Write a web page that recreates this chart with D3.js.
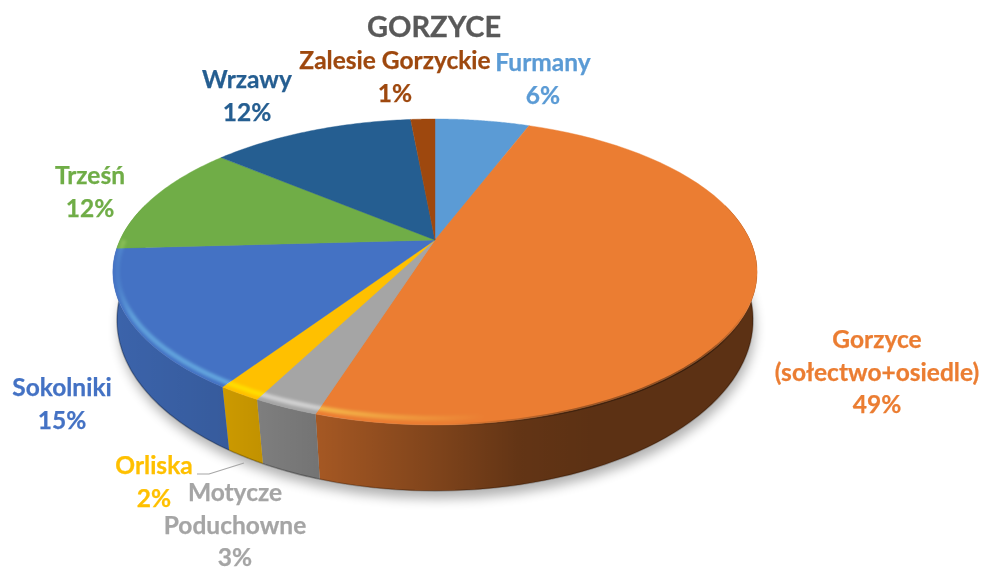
<!DOCTYPE html>
<html><head><meta charset="utf-8">
<script src="https://cdn.jsdelivr.net/npm/d3@7"></script>
<style>html,body{margin:0;background:#fff}svg{display:block}text{font-family:Lato,"Open Sans",sans-serif;font-weight:700}</style>
</head><body><svg id="c" width="985" height="570"></svg>
<script>
const title = "GORZYCE";
const categories = ["Furmany","Gorzyce (sołectwo+osiedle)","Motycze Poduchowne","Orliska","Sokolniki","Trześń","Wrzawy","Zalesie Gorzyckie"];
const values = [5.8,49.1,2.7,1.8,14.7,11.9,12.49,1.49];
const labelShown = [6,49,3,2,15,12,12,1];
const colors = ["#5B9BD5","#EB7D32","#A5A5A5","#FFC000","#4472C4","#70AD47","#255E91","#9E480E"];
const labelLines = [["Furmany"],["Gorzyce","(sołectwo+osiedle)"],["Motycze","Poduchowne"],["Orliska"],["Sokolniki"],["Trześń"],["Wrzawy"],["Zalesie Gorzyckie"]];
const labelPos = [[543,64],[877,341],[235,494],[154,467],[62,389],[90,177],[247,81],[395,62]];

const svg = d3.select("#c");
const defs = svg.append("defs");
const project = (plane) => (theta) => {
  const u = Math.sin(theta), v = -Math.cos(theta), w = 1 - plane.k * v;
  return [plane.x + plane.rx * u / w, plane.y + plane.ry * v / w];
};
const topP = project({x:435,y:240,rx:315,ry:146.3,k:0.209});
const rimP = project({x:435,y:240,rx:311,ry:141,k:0.209});
const botP = project({x:435,y:288.4,rx:312.6,ry:165,k:0.185});
const arcPts = (f,a,b) => d3.range(0,61).map(i=>f(a+(b-a)*i/60));
const line = d3.line();
const pie = d3.pie().sort(null).value(d=>d)(values);

const blur = (id,s)=>defs.append("filter").attr("id",id).attr("x","-20%").attr("y","-20%").attr("width","140%").attr("height","140%").append("feGaussianBlur").attr("stdDeviation",s);
blur("b6",6); blur("b2",1.8); blur("b1",0.7);

// shadow
const all = arcPts(botP,0,2*Math.PI);
svg.append("path").attr("d",line(all.map(p=>[p[0]+2,p[1]+8]))+"Z").attr("fill","#000").attr("opacity",0.3).attr("filter","url(#b6)");

// side shading
const grad = (id,stops)=>{
  const g = defs.append("linearGradient").attr("id",id).attr("gradientUnits","userSpaceOnUse").attr("x1",113).attr("x2",757).attr("y1",0).attr("y2",0);
  stops.forEach(s=>g.append("stop").attr("offset",s[0]).attr("stop-color",s[1]).attr("stop-opacity",s[2]));
};
grad("side",[[0,"#000",0.13],[0.17,"#000",0.2],[0.32,"#000",0.3],[0.49,"#000",0.45],[0.63,"#000",0.58],[0.75,"#000",0.61],[1,"#000",0.61]]);
grad("rimLight",[[0,"#fff",0],[0.03,"#fff",0.4],[0.3,"#fff",0.5],[0.5,"#fff",0.15],[0.58,"#fff",0]]);
grad("rimDark",[[0.52,"#000",0],[0.7,"#000",0.3],[0.92,"#000",0.4],[0.985,"#000",0]]);

const fl = Math.PI*0.42, fr = Math.PI*1.58;
const sideSlices = pie.map((d,i)=>({a:Math.max(d.startAngle,fl),b:Math.min(d.endAngle,fr),i})).filter(d=>d.b>d.a);
sideSlices.forEach(d=>{
  const pts = arcPts(topP,d.a,d.b).concat(arcPts(botP,d.a,d.b).reverse());
  svg.append("path").attr("d",line(pts)+"Z").attr("fill",colors[d.i]);
  svg.append("path").attr("d",line(pts)+"Z").attr("fill","url(#side)");
});
// dark bottom edge
const clipBot = arcPts(botP,Math.PI*0.5,Math.PI*1.5);
svg.append("path").attr("d",line(clipBot)).attr("fill","none").attr("stroke","#000").attr("stroke-opacity",0.25).attr("stroke-width",1.6).attr("filter","url(#b1)");

// top
pie.forEach((d,i)=>{
  const pts = [[435,240]].concat(arcPts(topP,d.startAngle,d.endAngle));
  svg.append("path").attr("d",line(pts)+"Z").attr("fill",colors[i]).attr("stroke",colors[i]).attr("stroke-width",0.4);
});

// bevel
svg.append("path").attr("d",line(arcPts(rimP,Math.PI*0.9,Math.PI*1.5))).attr("fill","none").attr("stroke","url(#rimLight)").attr("stroke-width",5).attr("filter","url(#b2)").style("mix-blend-mode","overlay");
svg.append("path").attr("d",line(arcPts(topP,Math.PI*0.5,Math.PI))).attr("fill","none").attr("stroke","url(#rimDark)").attr("stroke-width",3).attr("filter","url(#b1)");

// leader
svg.append("path").attr("d",d3.line()([[197,474],[209,474],[244,463]])).attr("fill","none").attr("stroke","#A6A6A6").attr("stroke-width",1.2);

// labels
svg.append("text").attr("x",434).attr("y",37).attr("text-anchor","middle").attr("font-size",29).attr("fill","#595959").attr("stroke","#595959").attr("stroke-width",0.3).text(title);
categories.forEach((c,i)=>{
  const lines = labelLines[i].concat([labelShown[i]+"%"]);
  const t = svg.append("text").attr("text-anchor","middle").attr("font-size",24.5).attr("fill",colors[i]).attr("stroke",colors[i]).attr("stroke-width",0.25);
  lines.forEach((s,j)=>t.append("tspan").attr("x",labelPos[i][0]).attr("y",labelPos[i][1]+7+j*32.5).text(s));
});
</script></body></html>
